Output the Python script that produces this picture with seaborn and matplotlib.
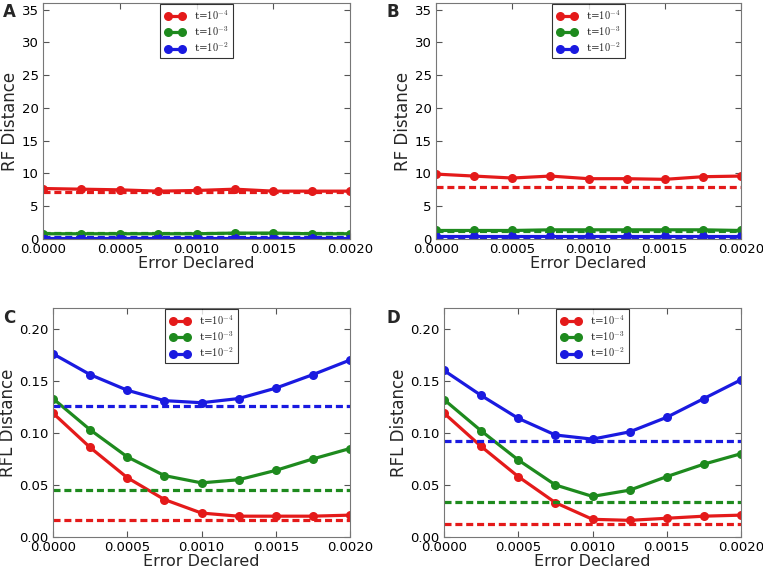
import pandas as pd
import matplotlib.pyplot as plt
import seaborn as sns
import numpy as np

# error declared (x axis)
error_declared = [0.0, 0.00025, 0.0005, 0.00075, 0.0010, 0.00125, 0.0015, 0.00175, 0.0020]
labels = ['t=$10^{-4}$', 't=$10^{-3}$', 't=$10^{-2}$']

# Panel A - RF distance
a_red = [7.7, 7.6, 7.5, 7.3, 7.4, 7.6, 7.3, 7.3, 7.3]
a_green = [0.8, 0.8, 0.8, 0.8, 0.8, 0.9, 0.9, 0.8, 0.8]
a_blue = [0.2, 0.2, 0.2, 0.2, 0.2, 0.2, 0.2, 0.2, 0.2]
a_base = [7.2, 0.95, 0.3]

# Panel B - RF distance
b_red = [9.9, 9.6, 9.3, 9.6, 9.2, 9.2, 9.1, 9.5, 9.6]
b_green = [1.3, 1.3, 1.3, 1.4, 1.4, 1.4, 1.4, 1.4, 1.3]
b_blue = [0.4, 0.4, 0.4, 0.4, 0.4, 0.4, 0.4, 0.4, 0.4]
b_base = [8.0, 1.2, 0.3]

# Panel C - RFL distance
c_red = [0.119, 0.086, 0.057, 0.036, 0.023, 0.020, 0.020, 0.020, 0.021]
c_green = [0.133, 0.103, 0.077, 0.059, 0.052, 0.055, 0.064, 0.075, 0.085]
c_blue = [0.176, 0.156, 0.141, 0.131, 0.129, 0.133, 0.143, 0.156, 0.170]
c_base = [0.016, 0.045, 0.126]

# Panel D - RFL distance
d_red = [0.119, 0.087, 0.058, 0.033, 0.017, 0.016, 0.018, 0.020, 0.021]
d_green = [0.132, 0.102, 0.074, 0.050, 0.039, 0.045, 0.058, 0.070, 0.080]
d_blue = [0.160, 0.136, 0.114, 0.098, 0.094, 0.101, 0.115, 0.133, 0.151]
d_base = [0.0125, 0.034, 0.092]

colors = ['#e41a1a', '#1e8a1e', '#1a1ae0']

sns.set_style('ticks')
plt.rcParams['mathtext.fontset'] = 'cm'
plt.rcParams['xtick.direction'] = 'in'
plt.rcParams['ytick.direction'] = 'in'
plt.rcParams['xtick.top'] = True
plt.rcParams['ytick.right'] = True

fig = plt.figure(figsize=(7.63, 5.70), dpi=100)
W, H = 763, 570


def add_ax(l, t, r, b):
    return fig.add_axes([l / W, 1 - b / H, (r - l) / W, (b - t) / H])


panels = [
    (add_ax(43, 3, 350, 239), [a_red, a_green, a_blue], a_base, 'RF Distance', 36, np.arange(0, 36, 5), 'A', (3, 3)),
    (add_ax(436, 3, 741, 239), [b_red, b_green, b_blue], b_base, 'RF Distance', 36, np.arange(0, 36, 5), 'B', (386, 3)),
    (add_ax(53, 308, 350, 537), [c_red, c_green, c_blue], c_base, 'RFL Distance', 0.22, np.arange(0, 0.21, 0.05), 'C', (3, 309)),
    (add_ax(444, 308, 741, 537), [d_red, d_green, d_blue], d_base, 'RFL Distance', 0.22, np.arange(0, 0.21, 0.05), 'D', (386, 309)),
]

for ax, series, base, ylab, ytop, yticks, letter, pos in panels:
    df = pd.DataFrame({
        'error': error_declared * 3,
        'value': series[0] + series[1] + series[2],
        'threshold': [labels[0]] * 9 + [labels[1]] * 9 + [labels[2]] * 9,
    })
    sns.lineplot(data=df, x='error', y='value', hue='threshold', palette=colors,
                 marker='o', markersize=6.5, markeredgewidth=0, linewidth=2.3, ax=ax)
    for b, c in zip(base, colors):
        ax.axhline(b, color=c, linestyle='--', linewidth=2.3, dashes=(2.2, 1.2))
    ax.set_xlim(0, 0.002)
    ax.set_ylim(0, ytop)
    ax.set_xticks([0, 0.0005, 0.001, 0.0015, 0.002])
    ax.set_xticklabels(['0.0000', '0.0005', '0.0010', '0.0015', '0.0020'], fontsize=9.5)
    ax.set_yticks(yticks)
    if ytop < 1:
        ax.set_yticklabels(['%.2f' % v for v in yticks], fontsize=9.5)
    else:
        ax.set_yticklabels([str(int(v)) for v in yticks], fontsize=9.5)
    ax.set_xlabel('Error Declared', fontsize=11.5, labelpad=0)
    ax.set_ylabel(ylab, fontsize=12, labelpad=2)
    for s in ax.spines.values():
        s.set_color('#777777')
    ax.tick_params(colors='#555555', labelcolor='black', length=4, pad=3)
    leg = ax.legend(loc='upper center', numpoints=2, frameon=True, borderaxespad=0.1,
                    fancybox=False, edgecolor='black', handlelength=2.0, labelspacing=0.25,
                    borderpad=0.4, prop={'family': 'DejaVu Serif', 'size': 7.5})
    leg.get_frame().set_linewidth(0.8)
    fig.text(pos[0] / W, 1 - pos[1] / H, letter, fontsize=12, fontweight='bold', va='top')

fig.savefig('out.png', dpi=100)
